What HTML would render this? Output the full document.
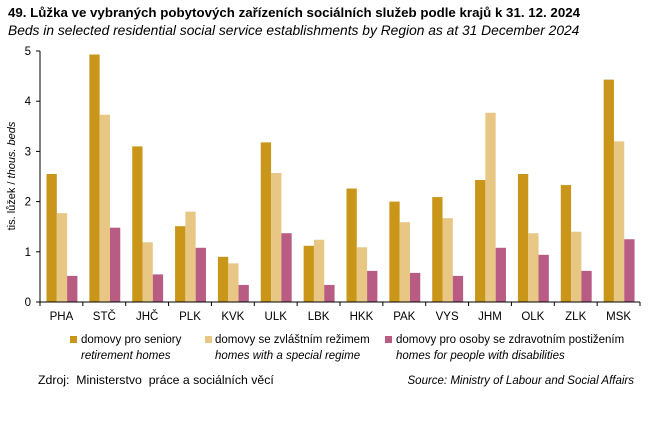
<!DOCTYPE html>
<html><head><meta charset="utf-8">
<style>
body{margin:0;background:#fff;font-family:"Liberation Sans","Noto Sans CJK SC",sans-serif;}
svg text{font-family:"Liberation Sans","Noto Sans CJK SC",sans-serif;}
</style></head>
<body>
<svg width="652" height="416" viewBox="0 0 652 416" xmlns="http://www.w3.org/2000/svg">
<text x="8" y="17" font-size="13.3" font-weight="bold" fill="#000">49. Lůžka ve vybraných pobytových zařízeních sociálních služeb podle krajů k 31. 12. 2024</text>
<text x="8" y="35" font-size="13.8" font-style="italic" fill="#000">Beds in selected residential social service establishments by Region as at 31 December 2024</text>
<text transform="translate(15,176) rotate(-90)" text-anchor="middle" font-size="11">tis. lůžek / <tspan font-style="italic">thous. beds</tspan></text>
<g id="bars"></g>
<g id="axes"></g>
<g>
<rect x="70" y="336" width="7" height="7" fill="#C9961A"/>
<text x="81" y="343" font-size="11.5">domovy pro seniory</text>
<text x="81" y="359" font-size="11.5" font-style="italic">retirement homes</text>
<rect x="205" y="336" width="7" height="7" fill="#E8C785"/>
<text x="215" y="343" font-size="11.5">domovy se zvláštním režimem</text>
<text x="215" y="359" font-size="11.5" font-style="italic">homes with a special regime</text>
<rect x="385" y="336" width="7" height="7" fill="#B85C84"/>
<text x="396" y="343" font-size="11.5">domovy pro osoby se zdravotním postižením</text>
<text x="396" y="359" font-size="11.5" font-style="italic">homes for people with disabilities</text>
</g>
<text x="38" y="384" font-size="12.3" style="white-space:pre">Zdroj:  Ministerstvo  práce a sociálních věcí</text>
<text x="634" y="384" font-size="11.5" font-style="italic" text-anchor="end">Source: Ministry of Labour and Social Affairs</text>
</svg>
<script>
const categories=["PHA","STČ","JHČ","PLK","KVK","ULK","LBK","HKK","PAK","VYS","JHM","OLK","ZLK","MSK"];
const retirement=[2.55,4.93,3.10,1.51,0.90,3.18,1.12,2.26,2.00,2.09,2.43,2.55,2.33,4.43];
const specialRegime=[1.77,3.73,1.19,1.80,0.77,2.57,1.24,1.09,1.59,1.67,3.77,1.37,1.40,3.20];
const disabilities=[0.52,1.48,0.55,1.08,0.34,1.37,0.34,0.62,0.58,0.52,1.08,0.94,0.62,1.25];
const yTicks=[0,1,2,3,4,5];
const NS="http://www.w3.org/2000/svg";
const x0=40,x1=640,y0=302,yTop=51,yMax=5;
const band=(x1-x0)/categories.length;
const yS=v=>y0-(v/yMax)*(y0-yTop);
const bw=10.3,off=6.5;
const bars=document.getElementById('bars'),axes=document.getElementById('axes');
const series=[[retirement,"#C9961A","retirement"],[specialRegime,"#E8C785","special"],[disabilities,"#B85C84","disabilities"]];
categories.forEach((c,i)=>{
 series.forEach((s,j)=>{
  const r=document.createElementNS(NS,'rect');
  const v=s[0][i];
  r.setAttribute('x',x0+i*band+off+j*bw);
  r.setAttribute('y',yS(v));
  r.setAttribute('width',bw);
  r.setAttribute('height',y0-yS(v));
  r.setAttribute('fill',s[1]);
  
  
  bars.appendChild(r);
 });
 const t=document.createElementNS(NS,'text');
 t.setAttribute('x',x0+(i+0.5)*band);t.setAttribute('y',320);
 t.setAttribute('text-anchor','middle');t.setAttribute('font-size','11.5');
 t.textContent=c;
 
 
 axes.appendChild(t);
});
for(let i=0;i<=categories.length;i++){
 const l=document.createElementNS(NS,'line');
 const x=x0+i*band;
 l.setAttribute('x1',x);l.setAttribute('x2',x);l.setAttribute('y1',y0);l.setAttribute('y2',y0+4);
 l.setAttribute('stroke','#000');
 
 
 axes.appendChild(l);
}
yTicks.forEach(v=>{
 const l=document.createElementNS(NS,'line');
 l.setAttribute('x1',x0-4);l.setAttribute('x2',x0);l.setAttribute('y1',yS(v));l.setAttribute('y2',yS(v));
 l.setAttribute('stroke','#000');
 
 
 axes.appendChild(l);
 const t=document.createElementNS(NS,'text');
 t.setAttribute('x',x0-9);t.setAttribute('y',yS(v)+4);
 t.setAttribute('text-anchor','end');t.setAttribute('font-size','11.5');
 t.textContent=v;
 
 
 axes.appendChild(t);
});
const ya=document.createElementNS(NS,'line');
ya.setAttribute('x1',x0);ya.setAttribute('x2',x0);ya.setAttribute('y1',yTop);ya.setAttribute('y2',y0);ya.setAttribute('stroke','#000');


axes.appendChild(ya);
const xa=document.createElementNS(NS,'line');
xa.setAttribute('x1',x0);xa.setAttribute('x2',x1);xa.setAttribute('y1',y0);xa.setAttribute('y2',y0);xa.setAttribute('stroke','#000');


axes.appendChild(xa);
</script>
</body></html>
